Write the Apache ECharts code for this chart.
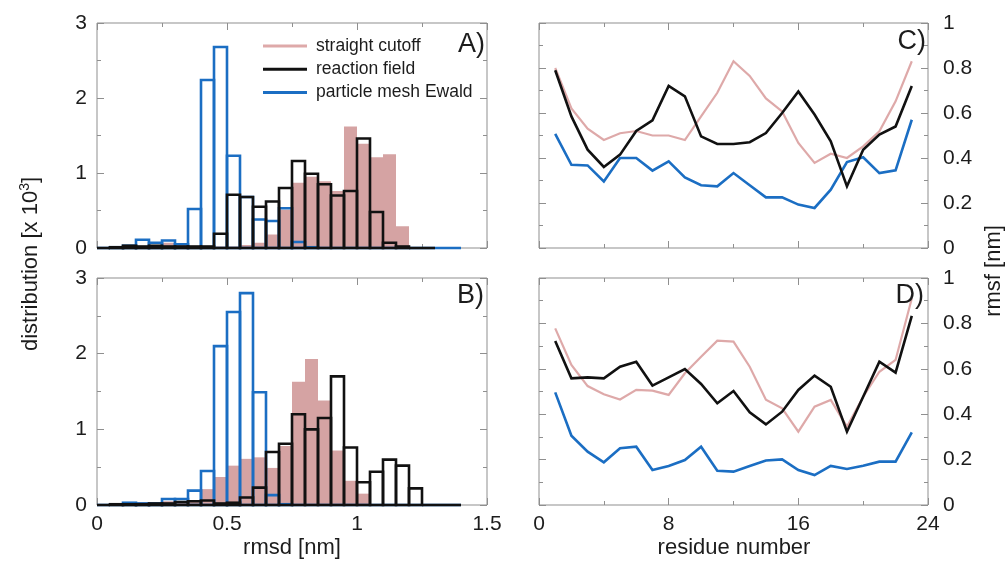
<!DOCTYPE html>
<html>
<head>
<meta charset="utf-8">
<script src="https://cdn.jsdelivr.net/npm/echarts@6/dist/echarts.min.js"></script>
<style>
  html, body { margin: 0; padding: 0; background: #fff; }
  #chart { width: 1005px; height: 563px; }
</style>
</head>
<body>
<div id="chart"></div>
<script>
// ---- histogram bins (rmsd, nm) ----
const BIN_WIDTH = 0.05;
const rmsdBinStart = [0, 0.05, 0.1, 0.15, 0.2, 0.25, 0.3, 0.35, 0.4, 0.45, 0.5, 0.55, 0.6, 0.65,
                      0.7, 0.75, 0.8, 0.85, 0.9, 0.95, 1.0, 1.05, 1.1, 1.15, 1.2, 1.25, 1.3, 1.35];

// panel A: rmsd distributions (x 10^3)
const histA_cutoff   = [0, 0, 0, 0, 0.02, 0.07, 0.05, 0.01, 0.01, 0.02, 0.02, 0.04, 0.07, 0.18,
                        0.51, 0.87, 0.95, 0.89, 0.76, 1.62, 1.39, 1.21, 1.25, 0.29, 0, 0, 0, 0];
const histA_reaction = [0, 0.01, 0.03, 0.02, 0.03, 0.02, 0.02, 0.02, 0.02, 0.19, 0.71, 0.68, 0.55, 0.62,
                        0.80, 1.16, 0.99, 0.85, 0.70, 0.76, 1.46, 0.48, 0.07, 0.02, 0, 0];
const histA_pme      = [0, 0.01, 0.03, 0.11, 0.07, 0.10, 0.05, 0.52, 2.24, 2.68, 1.23, 0.68, 0.38, 0.36,
                        0.53, 0.08, 0.01, 0, 0, 0, 0, 0, 0, 0, 0, 0, 0, 0];

// panel B: rmsd distributions (x 10^3)
const histB_cutoff   = [0, 0, 0.01, 0.04, 0.01, 0.05, 0.04, 0.05, 0.21, 0.37, 0.52, 0.61, 0.63, 0.49,
                        0.78, 1.63, 1.93, 1.38, 0.72, 0.32, 0.15, 0, 0, 0, 0, 0, 0, 0];
const histB_reaction = [0, 0.01, 0.01, 0.01, 0.02, 0.02, 0.04, 0.05, 0.06, 0.02, 0.03, 0.10, 0.23, 0.70,
                        0.81, 1.20, 1.00, 1.15, 1.70, 0.76, 0.30, 0.44, 0.60, 0.52, 0.22, 0, 0, 0];
const histB_pme      = [0, 0, 0.03, 0.02, 0.02, 0.08, 0.08, 0.19, 0.45, 2.10, 2.55, 2.80, 1.49, 0.13,
                        0.01, 0, 0, 0, 0, 0, 0, 0, 0, 0, 0, 0, 0, 0];

// ---- per-residue rmsf (nm) ----
const residues = [1, 2, 3, 4, 5, 6, 7, 8, 9, 10, 11, 12, 13, 14, 15, 16, 17, 18, 19, 20, 21, 22, 23];

const rmsfC_cutoff   = [0.80, 0.62, 0.53, 0.48, 0.51, 0.52, 0.50, 0.50, 0.48, 0.585, 0.69, 0.83, 0.765,
                        0.665, 0.607, 0.467, 0.378, 0.419, 0.40, 0.452, 0.519, 0.652, 0.83];
const rmsfC_reaction = [0.79, 0.585, 0.437, 0.36, 0.415, 0.52, 0.567, 0.72, 0.674, 0.496, 0.462, 0.462, 0.47,
                        0.511, 0.60, 0.696, 0.593, 0.474, 0.274, 0.437, 0.504, 0.54, 0.72];
const rmsfC_pme      = [0.507, 0.37, 0.367, 0.296, 0.40, 0.40, 0.344, 0.385, 0.314, 0.279, 0.274, 0.333, 0.279,
                        0.225, 0.225, 0.193, 0.178, 0.259, 0.382, 0.403, 0.333, 0.345, 0.57];

const rmsfD_cutoff   = [0.778, 0.617, 0.524, 0.488, 0.465, 0.507, 0.504, 0.485, 0.58, 0.653, 0.724, 0.72, 0.609,
                        0.464, 0.426, 0.323, 0.433, 0.463, 0.345, 0.477, 0.587, 0.639, 0.91];
const rmsfD_reaction = [0.722, 0.558, 0.562, 0.558, 0.609, 0.631, 0.526, 0.562, 0.599, 0.533, 0.448, 0.502, 0.408,
                        0.355, 0.411, 0.507, 0.57, 0.521, 0.323, 0.477, 0.631, 0.583, 0.833];
const rmsfD_pme      = [0.496, 0.305, 0.235, 0.188, 0.25, 0.257, 0.154, 0.172, 0.198, 0.257, 0.151, 0.147, 0.172,
                        0.196, 0.201, 0.154, 0.132, 0.172, 0.159, 0.173, 0.191, 0.191, 0.32];

const legendNames = ['straight cutoff', 'reaction field', 'particle mesh Ewald'];

// ---- styling ----
const FONT = "'Liberation Sans', Arial, Helvetica, sans-serif";
const PINK_FILL = '#d5a3a3';
const PINK_LINE = '#dea9a9';
const BLACK = '#111111';
const BLUE = '#1b6ec3';
const FRAME = '#8f8f8f';
const TEXT = '#1c1c1c';

const grids = [
  { left: 97,  top: 23,  width: 390, height: 225 },  // A
  { left: 97,  top: 278, width: 390, height: 227 },  // B
  { left: 539, top: 23,  width: 389, height: 225 },  // C
  { left: 539, top: 278, width: 389, height: 227 }   // D
].map(g => Object.assign({ show: true, borderColor: FRAME, borderWidth: 1, backgroundColor: 'transparent' }, g));

// every panel is boxed: ticks point inward on all four sides
function tickAxis(base) {
  return Object.assign({
    type: 'value',
    axisLine: { show: false, onZero: false },
    splitLine: { show: false },
    axisTick: { show: true, inside: true, length: 7, lineStyle: { color: FRAME, width: 1 } },
    minorTick: { show: true, splitNumber: 2, length: 4, lineStyle: { color: FRAME, width: 1 } },
    axisLabel: { show: false }
  }, base);
}
const labelStyle = { show: true, color: TEXT, fontFamily: FONT, fontSize: 21 };

const xAxes = [
  tickAxis({ gridIndex: 0, position: 'bottom', min: 0, max: 1.5, interval: 0.5 }),
  tickAxis({ gridIndex: 0, position: 'top',    min: 0, max: 1.5, interval: 0.5 }),
  tickAxis({ gridIndex: 1, position: 'bottom', min: 0, max: 1.5, interval: 0.5,
             axisLabel: Object.assign({ margin: 9 }, labelStyle) }),
  tickAxis({ gridIndex: 1, position: 'top',    min: 0, max: 1.5, interval: 0.5 }),
  tickAxis({ gridIndex: 2, position: 'bottom', min: 0, max: 24, interval: 8 }),
  tickAxis({ gridIndex: 2, position: 'top',    min: 0, max: 24, interval: 8 }),
  tickAxis({ gridIndex: 3, position: 'bottom', min: 0, max: 24, interval: 8,
             axisLabel: Object.assign({ margin: 9 }, labelStyle) }),
  tickAxis({ gridIndex: 3, position: 'top',    min: 0, max: 24, interval: 8 })
];

const rmsfFmt = v => String(Math.round(v * 10) / 10);
const yAxes = [
  tickAxis({ gridIndex: 0, position: 'left',  min: 0, max: 3, interval: 1,
             axisLabel: Object.assign({ margin: 10 }, labelStyle) }),
  tickAxis({ gridIndex: 0, position: 'right', min: 0, max: 3, interval: 1 }),
  tickAxis({ gridIndex: 1, position: 'left',  min: 0, max: 3, interval: 1,
             axisLabel: Object.assign({ margin: 10 }, labelStyle) }),
  tickAxis({ gridIndex: 1, position: 'right', min: 0, max: 3, interval: 1 }),
  tickAxis({ gridIndex: 2, position: 'left',  min: 0, max: 1, interval: 0.2 }),
  tickAxis({ gridIndex: 2, position: 'right', min: 0, max: 1, interval: 0.2,
             axisLabel: Object.assign({ margin: 15, formatter: rmsfFmt }, labelStyle) }),
  tickAxis({ gridIndex: 3, position: 'left',  min: 0, max: 1, interval: 0.2 }),
  tickAxis({ gridIndex: 3, position: 'right', min: 0, max: 1, interval: 0.2,
             axisLabel: Object.assign({ margin: 15, formatter: rmsfFmt }, labelStyle) })
];

// histogram bars as [binStart, binEnd, value]
function binData(values) {
  return values.map((v, i) => [rmsdBinStart[i], rmsdBinStart[i] + BIN_WIDTH, v]);
}
function histSeries(name, values, gridIdx, filled, color, z) {
  return {
    type: 'custom',
    name: name,
    xAxisIndex: gridIdx * 2,
    yAxisIndex: gridIdx * 2,
    z: z,
    silent: true,
    encode: { x: [0, 1], y: 2 },
    data: binData(values),
    renderItem: function (params, api) {
      const p0 = api.coord([api.value(0), 0]);
      const p1 = api.coord([api.value(1), api.value(2)]);
      const shape = { x: p0[0], y: p1[1], width: p1[0] - p0[0], height: p0[1] - p1[1] };
      return {
        type: 'rect',
        shape: shape,
        style: filled
          ? { fill: color, stroke: null }
          : { fill: 'none', stroke: color, lineWidth: 2.6 }
      };
    }
  };
}
function lineSeries(name, values, gridIdx, color, width, z) {
  return {
    type: 'line',
    name: name,
    xAxisIndex: gridIdx * 2,
    yAxisIndex: gridIdx * 2,
    z: z,
    silent: true,
    showSymbol: false,
    symbol: 'none',
    data: residues.map((r, i) => [r, values[i]]),
    lineStyle: { color: color, width: width, join: 'miter' },
    itemStyle: { color: color }
  };
}

const series = [
  histSeries(legendNames[0], histA_cutoff,   0, true,  PINK_FILL, 1),
  histSeries(legendNames[2], histA_pme,      0, false, BLUE,      2),
  histSeries(legendNames[1], histA_reaction, 0, false, BLACK,     3),
  histSeries(legendNames[0], histB_cutoff,   1, true,  PINK_FILL, 1),
  histSeries(legendNames[2], histB_pme,      1, false, BLUE,      2),
  histSeries(legendNames[1], histB_reaction, 1, false, BLACK,     3),
  lineSeries(legendNames[0], rmsfC_cutoff,   2, PINK_LINE, 2.2, 1),
  lineSeries(legendNames[2], rmsfC_pme,      2, BLUE,      2.6, 2),
  lineSeries(legendNames[1], rmsfC_reaction, 2, BLACK,     2.6, 3),
  lineSeries(legendNames[0], rmsfD_cutoff,   3, PINK_LINE, 2.2, 1),
  lineSeries(legendNames[2], rmsfD_pme,      3, BLUE,      2.6, 2),
  lineSeries(legendNames[1], rmsfD_reaction, 3, BLACK,     2.6, 3)
];

const legendColors = [PINK_LINE, BLACK, BLUE];

function label(text, x, y, size, extra) {
  return {
    type: 'text', x: x, y: y, silent: true, z: 10,
    style: Object.assign({
      text: text, fill: TEXT, font: size + 'px ' + FONT,
      align: 'center', verticalAlign: 'middle'
    }, extra || {})
  };
}

const option = {
  animation: false,
  backgroundColor: '#ffffff',
  grid: grids,
  xAxis: xAxes,
  yAxis: yAxes,
  series: series,
  legend: {
    orient: 'vertical',
    left: 263,
    top: 36,
    padding: 0,
    itemWidth: 44,
    itemHeight: 3,
    itemGap: 3.3,
    selectedMode: false,
    textStyle: { fontFamily: FONT, fontSize: 17.5, color: TEXT, lineHeight: 20, padding: [0, 0, 0, 4] },
    data: legendNames.map((n, i) => ({ name: n, icon: 'rect', itemStyle: { color: legendColors[i] } }))
  },
  graphic: [
    label('A)', 485, 45, 27, { align: 'right' }),
    label('B)', 484, 296, 27, { align: 'right' }),
    label('C)', 926, 42, 27, { align: 'right' }),
    label('D)', 924, 296, 27, { align: 'right' }),
    label('rmsd [nm]', 292, 548, 22),
    label('residue number', 734, 548, 22),
    Object.assign(label('rmsf [nm]', 994, 271, 22), { rotation: Math.PI / 2 }),
    {
      type: 'text', x: 31, y: 264, rotation: Math.PI / 2, silent: true, z: 10,
      style: {
        text: 'distribution [x 10{sup|3}]',
        fill: TEXT, font: '22px ' + FONT,
        align: 'center', verticalAlign: 'middle',
        rich: {
          sup: { fontSize: 14, fontFamily: FONT, fill: TEXT, verticalAlign: 'top', lineHeight: 26, padding: [0, 0, 10, 0] }
        }
      }
    }
  ]
};

const chart = echarts.init(document.getElementById('chart'), null, { renderer: 'canvas' });
chart.setOption(option);
</script>
</body>
</html>
